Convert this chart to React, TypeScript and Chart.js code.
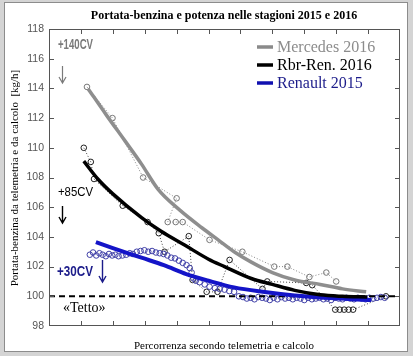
import React, { useEffect, useRef } from "react";
import { Chart, registerables } from "chart.js";
Chart.register(...registerables);

const chartTitle = "Portata-benzina e potenza nelle stagioni 2015 e 2016";
const xTitle = "Percorrenza secondo telemetria e calcolo";
const yTitle = "Portata-benzina da telemetria e da calcolo  [kg/h]";
const seriesNames = ["Mercedes 2016", "Rbr-Ren. 2016", "Renault 2015"];
const yTickValues = [98, 100, 102, 104, 106, 108, 110, 112, 114, 116, 118];
const xTickValues = [1, 2, 3, 4, 5, 6, 7, 8, 9, 10];
const ceilingValue = 100;
const ceilingLabel = "«Tetto»";
const gainLabels = ["+140CV", "+85CV", "+30CV"];

// Fitted curves
const mercFitX = [1.22, 1.8, 2.37, 2.9, 3.42, 4.1, 4.8, 5.3, 5.8, 6.34, 7.0, 7.7, 8.5, 9.2, 9.94];
const mercFitY = [114.0, 112.2, 110.5, 108.9, 107.2, 105.8, 104.6, 103.8, 103.0, 102.3, 101.6, 101.1, 100.8, 100.5, 100.3];
const rbrFitX = [1.09, 1.53, 2.0, 2.9, 3.5, 4.25, 5.0, 5.5, 6.34, 7.0, 7.7, 8.5, 9.2, 9.97];
const rbrFitY = [109.1, 107.9, 106.9, 105.3, 104.4, 103.45, 102.5, 102.0, 101.2, 100.8, 100.4, 100.1, 100.0, 99.95];
const renFitX = [1.47, 2.0, 2.9, 3.6, 4.3, 5.0, 5.8, 6.7, 7.7, 8.8, 10.1];
const renFitY = [103.65, 103.25, 102.6, 102.1, 101.5, 101.05, 100.6, 100.3, 100.05, 99.88, 99.75];

// Measured points
const mercX = [1.19, 1.99, 2.95, 4.0, 3.72, 3.97, 4.19, 5.03, 6.06, 7.06, 7.47, 8.16, 8.69, 9.0];
const mercY = [114.1, 112.0, 108.0, 106.6, 105.0, 105.0, 105.0, 103.8, 103.0, 102.0, 102.0, 101.3, 101.6, 101.0];
const rbrX = [1.09, 1.31, 1.41, 2.31, 3.09, 3.44, 3.62, 4.38, 4.5, 4.94, 5.28, 5.66, 6.69, 6.84, 8.06, 8.25, 8.97, 9.11, 9.25, 9.39, 9.53, 10.56];
const rbrY = [110.0, 109.05, 107.9, 106.1, 105.0, 104.25, 103.0, 104.05, 101.1, 100.3, 100.3, 102.45, 100.5, 101.0, 100.9, 100.75, 99.1, 99.1, 99.1, 99.1, 99.1, 100.0];
const renX = [
  1.28, 1.38, 1.48, 1.58, 1.68, 1.78, 1.88, 1.98, 2.08, 2.18, 2.3, 2.42, 2.53, 2.63,
  2.75, 2.87, 2.99, 3.11, 3.23, 3.35, 3.47, 3.59, 3.71, 3.83, 3.95, 4.07, 4.19, 4.31, 4.41, 4.47,
  4.53, 4.6, 4.72, 4.88, 5.03, 5.2, 5.35, 5.5, 5.65, 5.8, 5.95,
  6.08, 6.2, 6.32, 6.44, 6.56, 6.68, 6.8, 6.92, 7.04, 7.16, 7.28, 7.4, 7.52, 7.64, 7.76, 7.88, 8.0,
  8.12, 8.24, 8.36, 8.48, 8.6, 8.72, 8.84, 8.96, 9.08, 9.2, 9.32, 9.44, 9.56, 9.68, 9.8, 9.92,
  10.04, 10.16, 10.28, 10.4, 10.52,
];
const renY = [
  102.8, 102.95, 102.75, 102.9, 102.8, 102.7, 102.85, 102.75, 102.8, 102.7, 102.75, 102.8, 102.9, 102.85,
  103.0, 103.05, 103.1, 103.0, 103.05, 102.95, 102.9, 102.85, 102.75, 102.6, 102.55, 102.4, 102.25, 102.1, 101.9, 101.6,
  101.2, 101.05, 100.95, 100.8, 100.65, 100.55, 100.5, 100.45, 100.35, 100.3, 100.0,
  99.95, 99.85, 99.9, 99.8, 99.95, 99.9, 99.85, 99.75, 99.9, 99.8, 99.95, 99.85, 99.9, 99.8, 99.9, 99.85, 99.75,
  99.9, 99.8, 99.85, 99.9, 99.8, 99.85, 99.75, 99.9, 99.85, 99.8, 99.9, 99.85, 99.8, 99.9, 99.85,
  99.8, 99.9, 99.85, 99.9, 99.95, 99.9,
];

const zip = (xs: number[], ys: number[]) => xs.map((x, i) => ({ x, y: ys[i] }));

const COL_GRAY = "#8e8e8e";
const COL_BLACK = "#000000";
const COL_BLUE = "#1414c8";
const COL_NAVY = "#1c1c8a";
const legendColors = ["#8c8c8c", "#000000", COL_NAVY];
const legendLineColors = ["#8a8a8a", "#000000", "#1010b0"];

const decorPlugin = {
  id: "decor",
  beforeDraw(chart: any) {
    const ctx = chart.ctx;
    ctx.save();
    ctx.fillStyle = "#d4d4d4";
    ctx.fillRect(0, 0, chart.width, chart.height);
    ctx.fillStyle = "#ffffff";
    ctx.fillRect(5, 3, 403, 349);
    ctx.strokeStyle = "#8c8c8c";
    ctx.lineWidth = 1;
    ctx.strokeRect(4.5, 2.5, 403, 349);
    ctx.restore();
  },
  afterDraw(chart: any) {
    const ctx = chart.ctx;
    const a = chart.chartArea;
    const xs = chart.scales.x;
    const ys = chart.scales.y;
    ctx.save();
    // plot box
    ctx.strokeStyle = "#555";
    ctx.lineWidth = 1;
    ctx.strokeRect(Math.round(a.left) + 0.5, Math.round(a.top) + 0.5, Math.round(a.right - a.left) - 1, Math.round(a.bottom - a.top) - 1);
    // inward ticks
    ctx.beginPath();
    const tl = 5;
    xTickValues.forEach((v) => {
      const px = Math.round(xs.getPixelForValue(v)) + 0.5;
      ctx.moveTo(px, a.bottom);
      ctx.lineTo(px, a.bottom - tl);
      ctx.moveTo(px, a.top);
      ctx.lineTo(px, a.top + tl);
    });
    yTickValues.slice(1, -1).forEach((v) => {
      const py = Math.round(ys.getPixelForValue(v)) + 0.5;
      ctx.moveTo(a.left, py);
      ctx.lineTo(a.left + tl, py);
      ctx.moveTo(a.right, py);
      ctx.lineTo(a.right - tl, py);
    });
    ctx.stroke();

    // title
    ctx.fillStyle = "#000";
    ctx.textAlign = "center";
    ctx.textBaseline = "middle";
    ctx.font = 'bold 12px "Liberation Serif"';
    ctx.fillText(chartTitle, 224, 16);
    ctx.font = '11px "Liberation Serif"';
    ctx.fillText(xTitle, 224, 346);
    ctx.save();
    ctx.translate(15, 178);
    ctx.rotate(-Math.PI / 2);
    ctx.fillText(yTitle, 0, 0);
    ctx.restore();

    // legend
    ctx.textAlign = "left";
    ctx.font = '16px "Liberation Serif"';
    seriesNames.forEach((name, i) => {
      const y = 47 + i * 18;
      ctx.strokeStyle = legendLineColors[i];
      ctx.lineWidth = 3.5;
      ctx.beginPath();
      ctx.moveTo(257, y);
      ctx.lineTo(273, y);
      ctx.stroke();
      ctx.fillStyle = legendColors[i];
      ctx.fillText(name, 277, y + 1);
    });

    // annotations
    const arrow = (x: number, y1: number, y2: number, color: string, w: number) => {
      ctx.strokeStyle = color;
      ctx.lineWidth = w;
      ctx.beginPath();
      ctx.moveTo(x, y1);
      ctx.lineTo(x, y2);
      ctx.moveTo(x - 3.5, y2 - 6);
      ctx.lineTo(x, y2);
      ctx.lineTo(x + 3.5, y2 - 6);
      ctx.stroke();
    };
    ctx.textAlign = "left";
    ctx.font = 'bold 14px "Liberation Sans"';
    ctx.fillStyle = "#7a7a7a";
    ctx.fillText(gainLabels[0], 58, 45, 35);
    arrow(62.5, 66, 83, "#7a7a7a", 1.2);
    ctx.font = '13px "Liberation Sans"';
    ctx.fillStyle = "#000";
    ctx.fillText(gainLabels[1], 58, 192, 35);
    arrow(62.5, 206, 223, "#000", 1.4);
    ctx.font = 'bold 14px "Liberation Sans"';
    ctx.fillStyle = COL_NAVY;
    ctx.fillText(gainLabels[2], 57, 272, 36);
    arrow(102.5, 260, 282, COL_NAVY, 1.4);
    ctx.font = '14px "Liberation Serif"';
    ctx.fillStyle = "#000";
    ctx.fillText(ceilingLabel, 63, 308);
    ctx.restore();
  },
};

export default function App() {
  const ref = useRef<HTMLCanvasElement | null>(null);
  useEffect(() => {
    if (!ref.current) return;
    const pointCommon = {
      pointStyle: "circle",
      pointRadius: 2.8,
      pointBorderWidth: 1,
      pointBackgroundColor: "rgba(255,255,255,0)",
      pointHoverRadius: 2.8,
    };
    const chart = new Chart(ref.current, {
      type: "line",
      data: {
        datasets: [
          {
            label: seriesNames[0] + " fit",
            data: zip(mercFitX, mercFitY),
            borderColor: COL_GRAY,
            borderWidth: 3.5,
            pointRadius: 0,
            cubicInterpolationMode: "monotone",
            order: 0,
          },
          {
            label: seriesNames[1] + " fit",
            data: zip(rbrFitX, rbrFitY),
            borderColor: COL_BLACK,
            borderWidth: 3.5,
            pointRadius: 0,
            cubicInterpolationMode: "monotone",
            order: 1,
          },
          {
            label: seriesNames[2] + " fit",
            data: zip(renFitX, renFitY),
            borderColor: COL_BLUE,
            borderWidth: 4,
            pointRadius: 0,
            cubicInterpolationMode: "monotone",
            order: 2,
          },
          {
            label: "ceiling",
            data: [
              { x: 0, y: ceilingValue },
              { x: 11, y: ceilingValue },
            ],
            borderColor: "#000",
            borderWidth: 2,
            borderDash: [6, 4],
            pointRadius: 0,
            order: 3,
          },
          {
            label: seriesNames[2],
            data: zip(renX, renY),
            showLine: false,
            borderColor: "#4040a8",
            pointBorderColor: "#4040a8",
            ...pointCommon,
            order: 4,
          },
          {
            label: seriesNames[1],
            data: zip(rbrX, rbrY),
            showLine: true,
            borderColor: "#444",
            borderWidth: 1,
            borderDash: [1, 2],
            pointBorderColor: "#222",
            ...pointCommon,
            order: 5,
          },
          {
            label: seriesNames[0],
            data: zip(mercX, mercY),
            showLine: true,
            borderColor: "#888",
            borderWidth: 1,
            borderDash: [1, 2],
            pointBorderColor: "#777",
            ...pointCommon,
            order: 6,
          },
        ],
      } as any,
      options: {
        responsive: false,
        animation: false,
        devicePixelRatio: 1,
        layout: { padding: { left: 0, top: 29, right: 13, bottom: 0 } },
        plugins: { legend: { display: false }, tooltip: { enabled: false }, title: { display: false } },
        scales: {
          x: {
            type: "linear",
            min: 0,
            max: 11,
            grid: { display: false },
            border: { display: false },
            ticks: { display: false },
            afterFit: (s: any) => {
              s.height = 30;
            },
          },
          y: {
            type: "linear",
            min: 98,
            max: 118,
            grid: { display: false, drawTicks: false },
            border: { display: false },
            ticks: {
              stepSize: 2,
              padding: 5,
              color: "#555",
              font: { family: '"Liberation Sans"', size: 10.5 },
            },
            afterFit: (s: any) => {
              s.width = 49;
            },
          },
        },
      } as any,
      plugins: [decorPlugin],
    });
    return () => chart.destroy();
  }, []);
  return (
    <div style={{ position: "absolute", left: 0, top: 0, width: 413, height: 356 }}>
      <canvas ref={ref} width={413} height={356} style={{ display: "block", width: 413, height: 356 }} />
    </div>
  );
}
